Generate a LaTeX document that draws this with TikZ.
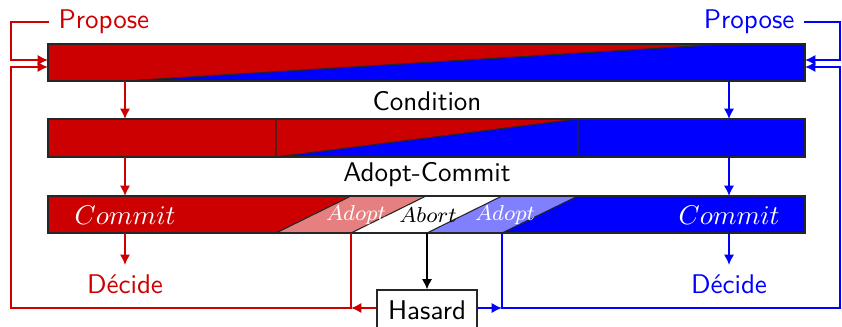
\documentclass[tikz,border=0pt]{standalone}
\usetikzlibrary{arrows.meta,fit}
\definecolor{myred}{RGB}{204,0,0}
\definecolor{myblue}{RGB}{0,0,255}
\definecolor{lred}{RGB}{230,128,128}
\definecolor{lblue}{RGB}{128,128,255}
\begin{document}
\begin{tikzpicture}[x=0.37pt,y=-0.37pt, font=\sffamily,
  conn/.style={line width=0.72pt, -{Latex[length=3.8pt,width=3.8pt]}},
  redc/.style={conn, draw=myred},
  bluec/.style={conn, draw=myblue},
  blackc/.style={conn, draw=black},
  edgeline/.style={draw=black!85, line width=0.4pt},
  barbox/.style={draw=black!85, line width=0.4pt, inner sep=0pt},
  lbl/.style={inner sep=3.33pt}]
\useasboundingbox (0,0) rectangle (842,326);
\clip (0,0) rectangle (842,326);

% ---- Bar 1 (Condition) ----
\fill[myred] (48,44) -- (728,44) -- (125,81) -- (48,81) -- cycle;
\fill[myblue] (728,44) -- (805,44) -- (805,81) -- (125,81) -- cycle;
\draw[edgeline] (125,81) -- (728,44);
\node[barbox, fit={(48,44) (805,81)}] (b1) {};

% ---- Bar 2 (Adopt-Commit) ----
\fill[myred] (48,119) -- (578,119) -- (276,157) -- (48,157) -- cycle;
\fill[myblue] (578,119) -- (805,119) -- (805,157) -- (276,157) -- cycle;
\draw[edgeline] (276,119) -- (276,157) -- (578,119) -- (578,157);
\node[barbox, fit={(48,119) (805,157)}] (b2) {};

% ---- Bar 3 ----
\fill[myred] (48,196) -- (351,196) -- (276,233) -- (48,233) -- cycle;
\fill[lred] (351,196) -- (426,196) -- (351,233) -- (276,233) -- cycle;
\fill[white] (426,196) -- (502,196) -- (427,233) -- (351,233) -- cycle;
\fill[lblue] (502,196) -- (578,196) -- (502,233) -- (427,233) -- cycle;
\fill[myblue] (578,196) -- (805,196) -- (805,233) -- (502,233) -- cycle;
\draw[edgeline] (276,233) -- (351,196);
\draw[edgeline] (351,233) -- (426,196);
\draw[edgeline] (427,233) -- (502,196);
\draw[edgeline] (502,233) -- (578,196);
\node[barbox, fit={(48,196) (805,233)}] (b3) {};

% ---- texts ----
\node[lbl, anchor=west, text=myred] (propL) at (49,22) {Propose};
\node[lbl, anchor=east, text=myblue] (propR) at (804,22) {Propose};
\node[lbl] (cond) at (427,101) {Condition};
\node[lbl] (ac) at (427,175) {Adopt-Commit};
\node[lbl, text=white] (comR) at (125,215) {$Commit$};
\node[lbl, text=white] (comB) at (729,215) {$Commit$};
\node[lbl, text=white, font=\footnotesize] (adR) at (356,215) {$Adopt$};
\node[lbl, text=black, font=\footnotesize] (abo) at (428,215) {$Abort$};
\node[lbl, text=white, font=\footnotesize] (adB) at (505,215) {$Adopt$};
\node[lbl, text=myred] (decR) at (125,284) {Décide};
\node[lbl, text=myblue] (decB) at (729,284) {Décide};
\node[draw=black!85, line width=0.4pt, minimum width=37pt, minimum height=14.8pt, inner sep=0pt] (hz) at (427,310) {Hasard};

% ---- coordinates ----
\coordinate (r1t) at (125,81);  \coordinate (r1b) at (125,119);
\coordinate (r2t) at (125,157); \coordinate (r2b) at (125,196);
\coordinate (r3t) at (125,233);
\coordinate (u1t) at (729,81);  \coordinate (u1b) at (729,119);
\coordinate (u2t) at (729,157); \coordinate (u2b) at (729,196);
\coordinate (u3t) at (729,233);
\coordinate (rOut) at (351,233); \coordinate (rCorner) at (351,308);
\coordinate (bOut) at (502,233); \coordinate (bCorner) at (502,308);
\coordinate (kOut) at (427,233);
\coordinate (inRa) at (48,60);  \coordinate (inRb) at (48,67);
\coordinate (inBa) at (805,60); \coordinate (inBb) at (805,67);

% ---- connectors ----
\draw[redc] (r1t) -- (r1b);
\draw[redc] (r2t) -- (r2b);
\draw[redc] (r3t) -- (decR.north);
\draw[bluec] (u1t) -- (u1b);
\draw[bluec] (u2t) -- (u2b);
\draw[bluec] (u3t) -- (decB.north);

\draw[redc] (propL.west) -| (11,60) -- (inRa);
\draw[bluec] (propR.east) -| (840,60) -- (inBa);

\draw[redc] (rOut) -- (rCorner) -- (11,308) -- (11,67) -- (inRb);
\draw[bluec] (bOut) -- (bCorner) -- (840,308) -- (840,67) -- (inBb);

\draw[blackc] (kOut) -- (hz.north);
\draw[redc] (hz.west |- rCorner) -- (rCorner);
\draw[bluec] (hz.east |- bCorner) -- (bCorner);
\end{tikzpicture}
\end{document}
